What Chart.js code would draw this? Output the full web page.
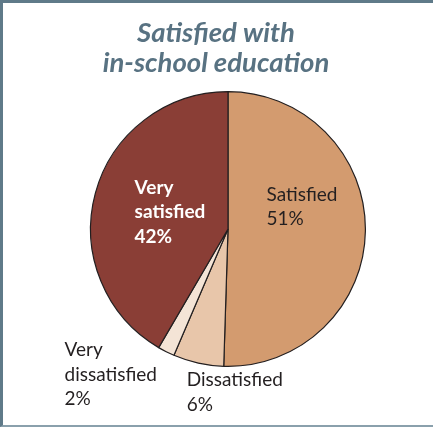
<!DOCTYPE html>
<html>
<head>
<meta charset="utf-8">
<script src="https://cdn.jsdelivr.net/npm/chart.js@4"></script>
<style>
  body { margin: 0; background: #fff; }
  #wrap {
    width: 433px; height: 427px; box-sizing: border-box;
    border-top: 3px solid #5f7a89; border-left: 3px solid #5f7a89;
    border-bottom: 2px solid #8aa0ac;
  }
</style>
</head>
<body>
<div id="wrap"><canvas id="myChart"></canvas></div>
<script>
var categories = ['Satisfied', 'Dissatisfied', 'Very dissatisfied', 'Very satisfied'];
var values = [51, 6, 2, 42];
var colors = ['#d39b6f', '#e8c6aa', '#f4e4d6', '#8a3e36'];
var titleLines = ['Satisfied with', 'in-school education'];

// label text lines plus offset from pie centre (in radius units)
var labelLines = [
    ['Satisfied', '51%'],
    ['Dissatisfied', '6%'],
    ['Very', 'dissatisfied', '2%'],
    ['Very', 'satisfied', '42%']
];
var labelOffsets = [[0.28, -0.25], [-0.30, 1.10], [-1.19, 0.88], [-0.68, -0.30]];

var labelPlugin = {
    id: 'labels',
    afterDraw: function(chart) {
        var c = chart.ctx;
        c.save();
        c.fillStyle = '#587282';
        c.font = 'italic bold 27.5px Lato';
        c.textAlign = 'center';
        c.textBaseline = 'middle';
        titleLines.forEach(function(t, i) {
            c.fillText(t, 213, 30 + i * 30);
        });
        var arcs = chart.getDatasetMeta(0).data;
        arcs.forEach(function(arc, i) {
            var x = arc.x + labelOffsets[i][0] * arc.outerRadius;
            var y = arc.y + labelOffsets[i][1] * arc.outerRadius;
            c.textAlign = 'left';
            if (i === 3) {
                c.fillStyle = '#ffffff';
                c.font = 'bold 19px Lato';
            } else {
                c.fillStyle = '#231f20';
                c.font = '19px Lato';
            }
            labelLines[i].forEach(function(t, j) {
                c.fillText(t, x, y + j * 24.5);
            });
        });
        c.restore();
    }
};

var ctx = document.getElementById('myChart').getContext('2d');
var myChart = new Chart(ctx, {
    type: 'pie',
    data: {
        labels: categories,
        datasets: [{
            data: values,
            backgroundColor: colors,
            borderColor: '#231f20',
            borderWidth: 1.2
        }]
    },
    options: {
        responsive: true,
        maintainAspectRatio: false,
        animation: false,
        layout: { padding: { top: 88, bottom: 58, left: 20, right: 0 } },
        plugins: {
            legend: { display: false },
            tooltip: { enabled: false }
        }
    },
    plugins: [labelPlugin]
});
</script>
</body>
</html>
